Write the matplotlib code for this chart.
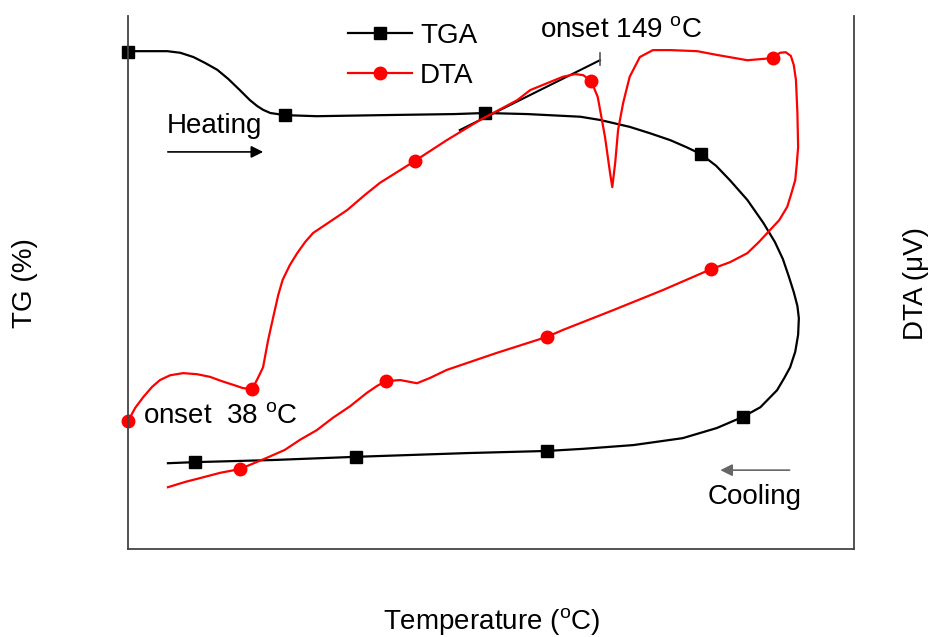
#!/usr/bin/env python3
"""TGA / DTA heating-cooling loop (no numeric scales, arbitrary units)"""
import matplotlib.pyplot as plt

plt.rcParams['font.family'] = ['Liberation Sans', 'DejaVu Sans']
plt.rcParams['mathtext.fontset'] = 'custom'
plt.rcParams['mathtext.rm'] = 'Liberation Sans'

# TGA trace: heating branch, then cooling branch (arb. units, 0-100)
tga_t = [0, 0.7, 3.0, 5.4, 7.2, 9.0, 10.6, 12.3, 13.8, 15.4,
         16.8, 17.8, 18.6, 19.6, 21.6, 26.0, 35.0, 45.0, 49.2, 55.0,
         62.3, 65.0, 69.1, 71.9, 74.7, 76.9, 78.9, 81.0, 82.9, 85.3,
         87.5, 89.1, 90.2, 91.0, 91.7, 92.2, 92.4, 92.3, 91.9, 91.2,
         90.4, 89.4, 87.1, 84.7, 81.1, 76.4, 69.6, 62.7, 57.7, 46.7,
         31.4, 20.0, 9.2, 5.5]
tga_w = [93.2, 93.4, 93.4, 93.4, 93.1, 92.3, 91.2, 89.9, 88.2, 86.1,
         84.2, 83.1, 82.4, 81.8, 81.4, 81.2, 81.4, 81.6, 81.8, 81.6,
         81.1, 80.5, 79.2, 78.0, 76.7, 75.4, 74.1, 71.9, 69.2, 65.5,
         61.2, 57.6, 54.4, 51.2, 48.2, 45.6, 43.3, 40.2, 37.0, 34.1,
         32.1, 29.8, 26.6, 24.8, 22.7, 20.8, 19.5, 18.8, 18.4, 18.0,
         17.3, 16.7, 16.3, 16.1]
tga_mark_t = [0, 21.6, 49.2, 78.9, 84.7, 57.7, 31.4, 9.2]

# DTA trace: heating branch, then cooling branch
dta_t = [0, 1.0, 2.1, 3.3, 4.4, 5.8, 7.6, 9.5, 11.3, 12.9,
         14.5, 15.8, 17.1, 17.9, 18.6, 19.3, 20.0, 20.7, 21.3, 22.3,
         23.3, 24.4, 25.5, 27.8, 30.2, 32.6, 34.7, 39.5, 43.9, 48.5,
         53.6, 55.4, 59.9, 61.6, 62.7, 63.8, 64.7, 65.7, 66.4, 66.7,
         67.1, 67.5, 68.2, 69.1, 70.5, 72.3, 74.7, 78.4, 81.1, 85.3,
         88.8, 89.8, 90.6, 91.3, 91.7, 92.0, 92.2, 92.3, 92.1, 91.9,
         91.3, 90.8, 89.7, 88.4, 86.9, 85.3, 82.9, 80.3, 73.7, 66.8,
         59.9, 57.7, 55.4, 50.8, 43.9, 41.6, 39.8, 37.5, 35.5, 34.3,
         32.9, 30.6, 28.2, 26.0, 23.7, 21.6, 19.1, 15.4, 12.7, 9.9,
         7.9, 5.5]
dta_v = [24.0, 26.5, 28.5, 30.4, 31.7, 32.6, 33.0, 32.8, 32.3, 31.5,
         30.8, 30.2, 30.0, 32.1, 34.1, 39.2, 43.5, 47.7, 50.5, 53.3,
         55.5, 57.6, 59.3, 61.4, 63.6, 66.4, 68.7, 72.8, 76.7, 80.5,
         84.2, 86.1, 88.6, 89.1, 88.9, 87.8, 84.8, 77.3, 70.5, 67.9,
         72.4, 78.6, 83.7, 88.6, 92.3, 93.6, 93.6, 93.4, 92.7, 91.7,
         92.1, 93.1, 93.2, 92.5, 90.8, 88.0, 81.8, 75.4, 72.0, 69.2,
         66.4, 64.2, 61.7, 59.8, 57.6, 55.5, 53.8, 52.5, 48.6, 44.8,
         41.1, 39.8, 38.8, 36.8, 33.6, 32.1, 31.1, 31.7, 31.5, 30.6,
         29.3, 26.8, 24.6, 22.3, 20.5, 18.6, 17.1, 15.0, 14.3, 13.3,
         12.6, 11.6]
dta_mark_t = [0, 17.1, 39.5, 63.8, 88.8, 80.3, 57.7, 35.5, 15.4]

# onset tangent for the 149 oC event
tan_t = [45.7, 65.0]
tan_v = [78.6, 91.7]

tga_marks = [tga_t.index(v) for v in tga_mark_t]
dta_marks = [dta_t.index(v) for v in dta_mark_t]

fig = plt.figure(figsize=(9.29, 6.37), dpi=100)
ax = fig.add_axes([0.1378, 0.1381, 0.7815, 0.8368])

ax.plot(tan_t, tan_v, '-', color='black', lw=1.5)
ax.plot([tan_t[1], tan_t[1]], [tan_v[1] - 0.9, tan_v[1] + 1.4], '-', color='#555', lw=1.2)

l1, = ax.plot(tga_t, tga_w, '-', color='black', lw=1.6, marker='s', ms=8,
              markevery=tga_marks, solid_joinstyle='round', clip_on=False, label='TGA')
l2, = ax.plot(dta_t, dta_v, '-', color='#ff0000', lw=1.6, marker='o', ms=9,
              markevery=dta_marks, solid_joinstyle='round', clip_on=False, label='DTA')

ax.set_xlim(0, 100)
ax.set_ylim(0, 100)
ax.set_xticks([])
ax.set_yticks([])
ax.spines['top'].set_visible(False)
for s in ('left', 'right', 'bottom'):
    ax.spines[s].set_color('#444')
    ax.spines[s].set_linewidth(1.3)

fs = 20
ax.text(5.4, 79.4, 'Heating', fontsize=fs, va='center')
ax.annotate('', xy=(19.0, 74.5), xytext=(5.1, 74.5),
            arrowprops=dict(arrowstyle='-|>', color='black', lw=1.2, mutation_scale=18))
ax.text(79.8, 9.8, 'Cooling', fontsize=fs, va='center')
ax.annotate('', xy=(81.2, 14.8), xytext=(91.5, 14.8),
            arrowprops=dict(arrowstyle='-|>', color='#666', lw=1.2, mutation_scale=18))
ax.text(2.1, 24.8, r'onset  38 $^{\mathrm{o}}$C', fontsize=fs, va='center')
ax.text(56.7, 97.2, r'onset 149 $^{\mathrm{o}}$C', fontsize=fs, va='center')

ax.legend(handles=[l1, l2], loc='upper left', frameon=False, fontsize=fs,
          handlelength=2.3, handletextpad=0.3, labelspacing=0.5, borderpad=0,
          bbox_to_anchor=(334 / 929, 1 - 9 / 637), bbox_transform=fig.transFigure)

fig.text(25 / 929, 1 - 283 / 637, 'TG (%)', fontsize=fs, rotation=90,
         ha='center', va='center')
fig.text(916 / 929, 1 - 283 / 637, 'DTA (\u03bcV)', fontsize=fs, rotation=90,
         ha='center', va='center')
fig.text(492 / 929, 1 - 622 / 637, r'Temperature ($^{\mathrm{o}}$C)', fontsize=fs,
         ha='center', va='center')

fig.savefig('out.png', dpi=100)
